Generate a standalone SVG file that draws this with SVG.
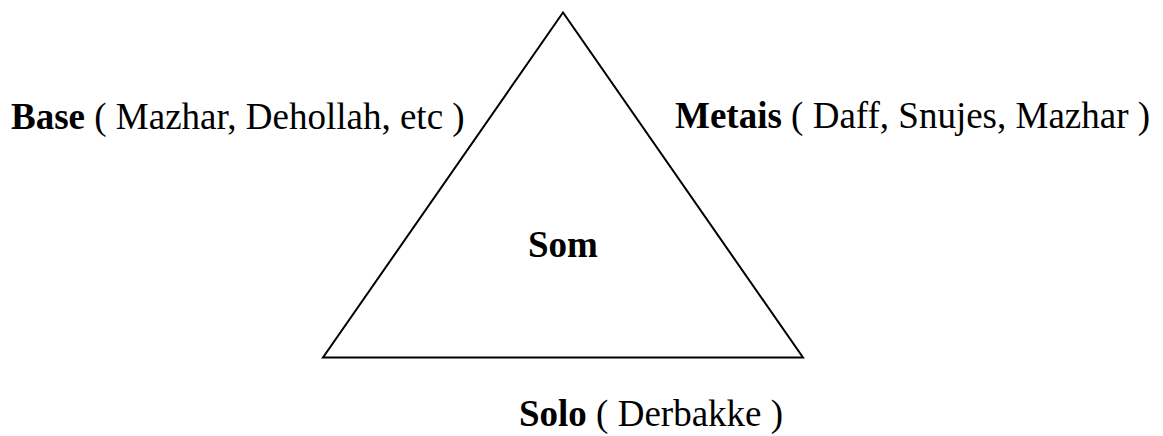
<svg xmlns="http://www.w3.org/2000/svg" width="1163" height="436" viewBox="0 0 1163 436">
<style>
text{font-family:"Liberation Serif","Times New Roman",serif;font-size:37px;fill:#000}
.b{font-weight:bold}
.tri{fill:none;stroke:#000;stroke-width:2;stroke-linejoin:miter}
</style>
<rect width="1163" height="436" fill="#fff"/>
<g id="connectors"></g>
<g id="triangle">
<polygon class="tri" points="563,12.5 323,357.5 803,357.5"/>
</g>
<g id="som"><text x="528" y="257"><tspan class="b">Som</tspan></text></g>
<g id="base"><text x="11" y="129" xml:space="preserve"><tspan class="b">Base</tspan> ( Mazhar, Dehollah, etc )</text></g>
<g id="metais"><text x="675" y="128" xml:space="preserve"><tspan class="b">Metais</tspan> ( Daff, Snujes, Mazhar )</text></g>
<g id="solo"><text x="519" y="426" xml:space="preserve"><tspan class="b">Solo</tspan> ( Derbakke )</text></g>
</svg>
